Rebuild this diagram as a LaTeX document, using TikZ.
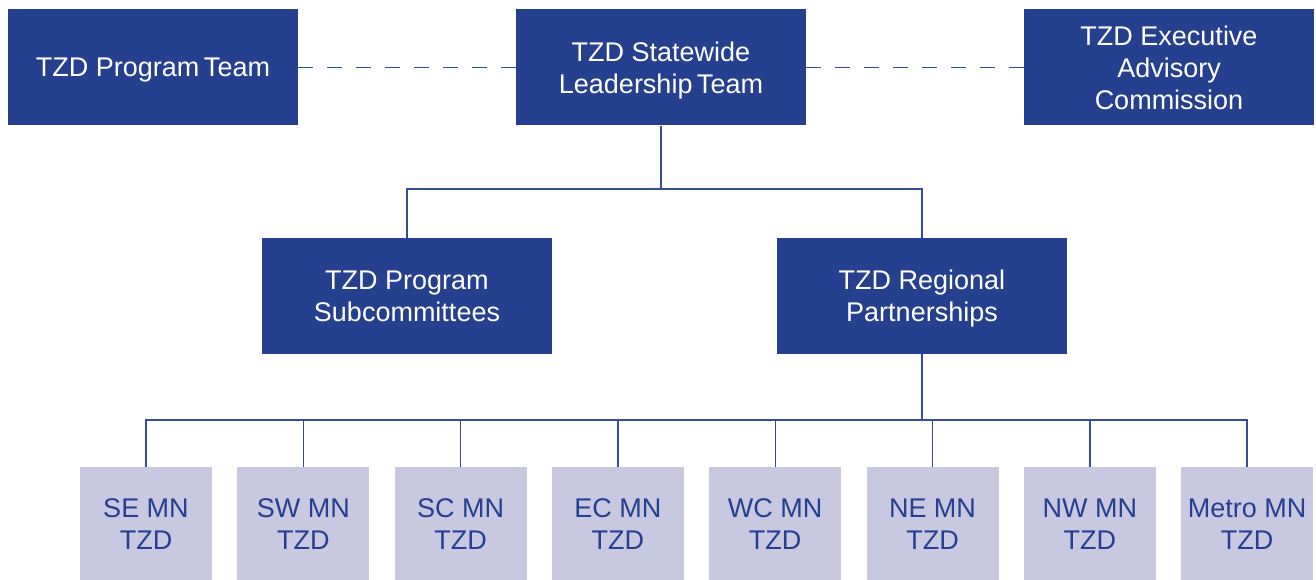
\documentclass[tikz,border=0pt]{standalone}
\usepackage{fontspec}
\setmainfont{Liberation Sans}
\definecolor{tzdblue}{RGB}{36,64,142}
\definecolor{tzdline}{RGB}{52,78,156}
\definecolor{tzdlight}{RGB}{200,200,224}
\tikzset{
  bigbox/.style={fill=tzdblue,text=white,minimum width=290pt,minimum height=116pt,inner sep=0pt,text depth=0pt,align=center,font=\fontsize{27}{32}\selectfont},
  mnbox/.style={fill=tzdlight,text=tzdblue,minimum width=132pt,minimum height=114pt,inner sep=0pt,text depth=0pt,align=center,font=\fontsize{27}{32}\selectfont},
  link/.style={draw=tzdline,line width=1.4pt}
}
\begin{document}
\begin{tikzpicture}[x=1pt,y=-1pt]
\useasboundingbox (0,0) rectangle (1316,580) ;
\node[bigbox] (prog) at (153,67.5) {TZD Program\,Team} ;
\node[bigbox] (lead) at (661,67.5) {TZD Statewide\\Leadership\,Team} ;
\node[bigbox] (exec) at (1169,67.5) {TZD Executive\\Advisory\\Commission} ;
\node[bigbox] (sub) at (407,296) {TZD Program\\Subcommittees} ;
\node[bigbox] (reg) at (922,296) {TZD Regional\\Partnerships} ;
\coordinate (split1) at (661,189) ;
\coordinate (split2) at (922,420) ;
\draw [link,dash pattern=on 15pt off 14pt] (prog.east) -- (lead.west) ;
\draw [link,dash pattern=on 15pt off 14pt] (lead.east) -- (exec.west) ;
\draw [link] (lead.south) -- (split1) ;
\draw [link] (split1) -| (sub.north) ;
\draw [link] (split1) -| (reg.north) ;
\draw [link] (reg.south) -- (split2) ;
\foreach \name [count=\i from 0] in {SE,SW,SC,EC,WC,NE,NW,Metro} {
  \node[mnbox] (mn\i) at (146+157.3*\i,524) {\name{} MN\\TZD} ;
  \draw [link] (split2) -| (mn\i.north) ;
}
\end{tikzpicture}
\end{document}
